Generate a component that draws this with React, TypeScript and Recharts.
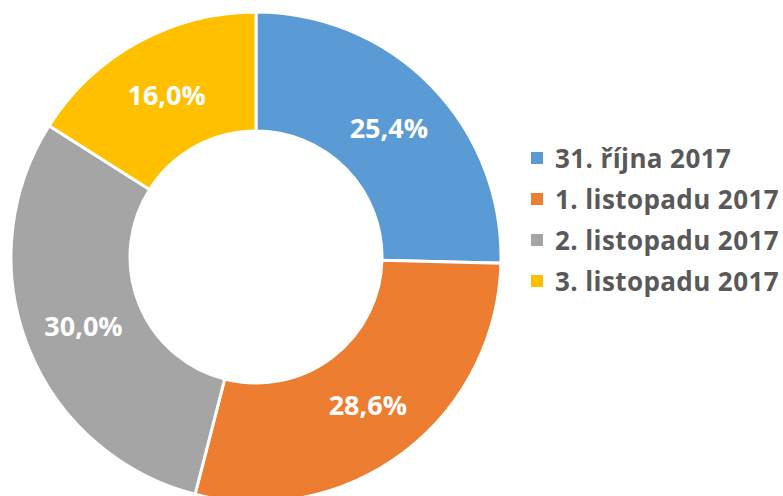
import { PieChart, Pie, Cell, Legend } from 'recharts';

const LABELS = ['31. října 2017', '1. listopadu 2017', '2. listopadu 2017', '3. listopadu 2017'];
const SHARES = [25.4, 28.6, 30.0, 16.0];
const COLORS = ['#5B9BD5', '#ED7D31', '#A5A5A5', '#FFC000'];

const data = LABELS.map((name, i) => ({ name, value: SHARES[i] }));

const RADIAN = Math.PI / 180;
const FONT = '"Open Sans", "Liberation Sans", sans-serif';

function SliceLabel(props: any) {
  const { cx, cy, midAngle, innerRadius, outerRadius, value } = props;
  const r = (innerRadius + outerRadius) / 2;
  const x = cx + r * Math.cos(-midAngle * RADIAN);
  const y = cy + r * Math.sin(-midAngle * RADIAN);
  return (
    <text
      x={x} y={y} fill="#fff" textAnchor="middle" dominantBaseline="central"
      style={{ fontFamily: FONT, fontWeight: 700, fontSize: 27 }}
    >
      {value.toFixed(1).replace('.', ',')}%
    </text>
  );
}

function LegendList() {
  return (
    <div style={{ fontFamily: FONT, fontWeight: 700, fontSize: 26, letterSpacing: 0.4, color: '#595959' }}>
      {data.map((d, i) => (
        <div key={d.name} style={{ display: 'flex', alignItems: 'center', height: 41, whiteSpace: 'nowrap' }}>
          <span style={{ width: 12, height: 12, background: COLORS[i], marginRight: 12, flex: 'none' }} />
          <span>{d.name}</span>
        </div>
      ))}
    </div>
  );
}

export default function App() {
  return (
    <div style={{ position: 'absolute', left: 0, top: 0, width: 783, height: 496, background: '#fff' }}>
      <PieChart width={783} height={496} margin={{ top: 0, right: 0, bottom: 0, left: 0 }}>
        <Pie
          data={data} dataKey="value" nameKey="name"
          cx={256} cy={257} innerRadius={126} outerRadius={245}
          startAngle={90} endAngle={-270}
          stroke="#fff" strokeWidth={3}
          label={SliceLabel} labelLine={false}
          isAnimationActive={false}
        >
          {data.map((_, i) => <Cell key={i} fill={COLORS[i]} />)}
        </Pie>
        <Legend
          content={<LegendList />}
          wrapperStyle={{ left: 531, top: 137, width: 252 }}
        />
      </PieChart>
    </div>
  );
}
